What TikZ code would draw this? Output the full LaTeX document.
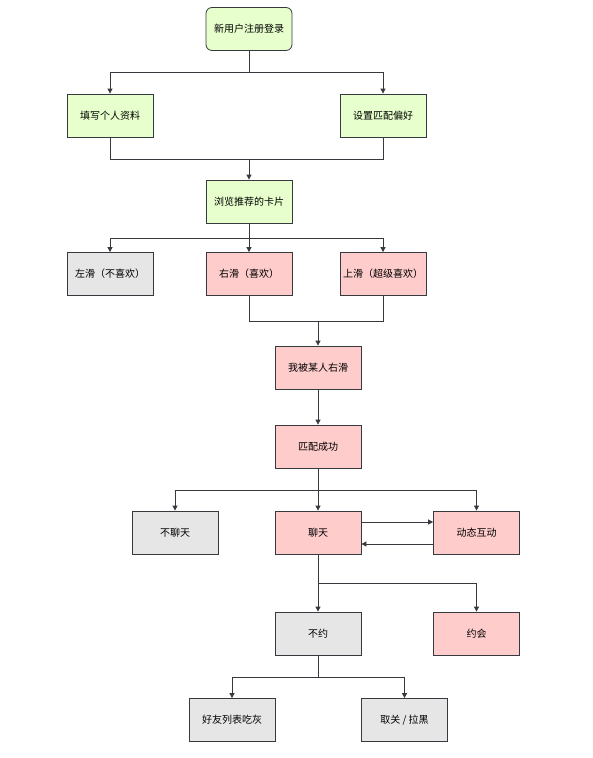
\documentclass[tikz,border=0pt]{standalone}
\usepackage{fontspec}
\newfontfamily\cjk{Noto Sans CJK SC}
\usetikzlibrary{arrows.meta}
\definecolor{gfill}{HTML}{E6FFCC}
\definecolor{pfill}{HTML}{FFCCCC}
\definecolor{hfill}{HTML}{E6E6E6}
\definecolor{edge}{HTML}{36393D}
\begin{document}
\begin{tikzpicture}[x=1pt,y=-1pt,
  box/.style={draw=edge, line width=0.8pt, minimum width=86pt, minimum height=43pt, inner sep=0pt, font=\cjk\fontsize{10}{12}\selectfont, text=black},
  green/.style={box, fill=gfill},
  pink/.style={box, fill=pfill},
  grey/.style={box, fill=hfill},
  conn/.style={draw=edge, line width=0.8pt},
  arr/.style={conn, -{Triangle[width=5pt,length=5pt]}}]
\useasboundingbox (0,0) rectangle (592,758);
\node[green, rounded corners=6pt] (A) at (249,29) {新用户注册登录};
\node[green] (B) at (110,115.5) {填写个人资料};
\node[green] (C) at (383,115.5) {设置匹配偏好};
\node[green] (D) at (249,201.5) {浏览推荐的卡片};
\node[grey] (E) at (110,274) {左滑（不喜欢）};
\node[pink] (F) at (249,274) {右滑（喜欢）};
\node[pink] (G) at (383,274) {上滑（超级喜欢）};
\node[pink] (H) at (318,367.5) {我被某人右滑};
\node[pink] (I) at (318,446.5) {匹配成功};
\node[grey] (J) at (175,532.5) {不聊天};
\node[pink] (K) at (318,532.5) {聊天};
\node[pink] (L) at (476.5,532.5) {动态互动};
\node[grey] (M) at (318,633.5) {不约};
\node[pink] (N) at (476.5,633.5) {约会};
\node[grey] (O) at (232,720) {好友列表吃灰};
\node[grey] (P) at (404.5,720) {取关 / 拉黑};
\coordinate (j1) at (249,72);
\coordinate (j2) at (249,159);
\coordinate (j3) at (249,238);
\coordinate (j4) at (318,321);
\coordinate (j5) at (318,490);
\coordinate (j6) at (318,583);
\coordinate (j7) at (318,677);
\draw[conn] (A) -- (j1);
\draw[arr] (j1) -| (B);
\draw[arr] (j1) -| (C);
\draw[conn] (B) |- (j2);
\draw[conn] (C) |- (j2);
\draw[arr] (j2) -- (D);
\draw[arr] (D) -- (F);
\draw[arr] (j3) -| (E);
\draw[arr] (j3) -| (G);
\draw[conn] (F) |- (j4);
\draw[conn] (G) |- (j4);
\draw[arr] (j4) -- (H);
\draw[arr] (H) -- (I);
\draw[arr] (I) -- (K);
\draw[arr] (j5) -| (J);
\draw[arr] (j5) -| (L);
\draw[arr] ([yshift=10.5pt]K.east) -- ([yshift=10.5pt]L.west);
\draw[arr] ([yshift=-11.5pt]L.west) -- ([yshift=-11.5pt]K.east);
\draw[arr] (K) -- (M);
\draw[arr] (j6) -| (N);
\draw[conn] (M) -- (j7);
\draw[arr] (j7) -| (O);
\draw[arr] (j7) -| (P);
\end{tikzpicture}
\end{document}
